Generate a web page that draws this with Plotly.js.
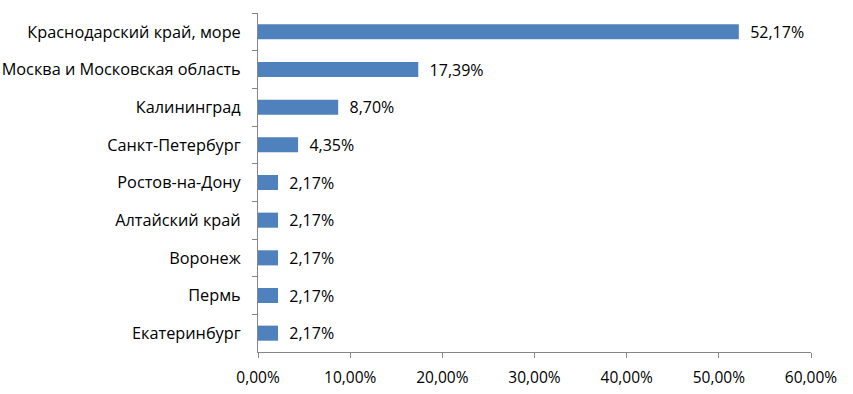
<!DOCTYPE html>
<html>
<head>
<meta charset="utf-8">
<script src="https://cdn.plot.ly/plotly-3.0.1.min.js"></script>
<style>html,body{margin:0;padding:0;background:#fff;}#chart{width:853px;height:394px;}</style>
</head>
<body>
<div id="chart"></div>
<script>
const categories = ["Краснодарский край, море", "Москва и Московская область", "Калининград", "Санкт-Петербург", "Ростов-на-Дону", "Алтайский край", "Воронеж", "Пермь", "Екатеринбург"];
const shares = [0.5217, 0.1739, 0.0870, 0.0435, 0.0217, 0.0217, 0.0217, 0.0217, 0.0217];

const trace = {
  type: 'bar',
  orientation: 'h',
  y: categories,
  x: shares,
  marker: {color: '#4F81BD'},
  texttemplate: '\u00a0\u00a0%{x:.2%}',
  textposition: 'outside',
  constraintext: 'none',
  textfont: {family: 'Open Sans, sans-serif', size: 16, color: '#000'},
  cliponaxis: false,
  hoverinfo: 'none'
};

const layout = {
  width: 853, height: 394,
  margin: {l: 258, r: 42, t: 13, b: 42},
  paper_bgcolor: '#fff', plot_bgcolor: '#fff',
  separators: ', ',
  bargap: 0.6,
  showlegend: false,
  font: {family: 'Open Sans, sans-serif', size: 14, color: '#000'},
  xaxis: {
    range: [0, 0.6], dtick: 0.1, tickformat: '.2%',
    showgrid: false, zeroline: false,
    showline: true, linecolor: '#868686', linewidth: 1,
    ticks: 'outside', ticklen: 5, tickcolor: '#868686',
    ticklabelstandoff: 6,
    tickfont: {size: 15.5, color: '#000'}
  },
  yaxis: {
    type: 'category', autorange: 'reversed',
    showgrid: false, zeroline: false,
    showline: true, linecolor: '#868686', linewidth: 1,
    ticks: 'outside', ticklen: 5, tickcolor: '#868686', tickson: 'boundaries',
    ticklabelstandoff: 13,
    tickfont: {size: 16.3, color: '#000'}
  }
};

Plotly.newPlot('chart', [trace], layout, {staticPlot: true, displayModeBar: false});
</script>
</body>
</html>
